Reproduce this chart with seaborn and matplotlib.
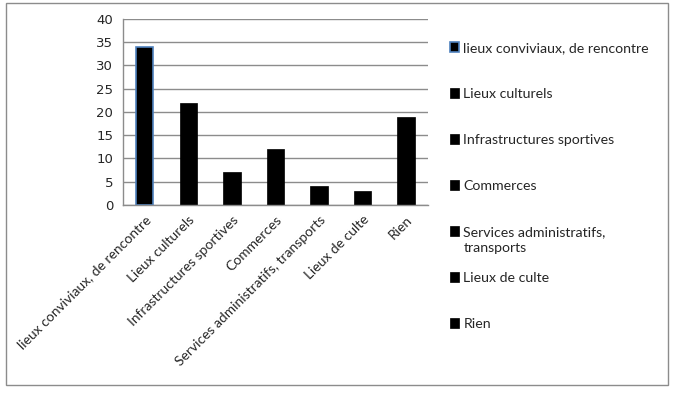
import matplotlib
matplotlib.use("Agg")
import matplotlib.pyplot as plt
import matplotlib.patches as mpatches
import numpy as np
import seaborn as sns

# Data
categories = [
    "lieux conviviaux, de rencontre",
    "Lieux culturels",
    "Infrastructures sportives",
    "Commerces",
    "Services administratifs, transports",
    "Lieux de culte",
    "Rien",
]
# legend wraps the long label onto a second line under the first one
legend_labels = [
    "lieux conviviaux, de rencontre",
    "Lieux culturels",
    "Infrastructures sportives",
    "Commerces",
    "Services administratifs,",
    "Lieux de culte",
    "Rien",
]
legend_wrap = {4: "transports"}
values = [34, 22, 7, 12, 4, 3, 19]
y_ticks = [0, 5, 10, 15, 20, 25, 30, 35, 40]

sns.set_style("white")
plt.rcParams["font.family"] = ["Lato", "DejaVu Sans"]

fig = plt.figure(figsize=(6.75, 3.94), dpi=100)
ax = fig.add_axes([123 / 675, 1 - 205 / 394, (428 - 123) / 675, (205 - 19) / 394])

sns.barplot(x=categories, y=values, hue=categories, palette=["black"] * len(categories),
            width=0.4, legend=False, ax=ax, saturation=1)

bars = ax.patches
for b in bars:
    b.set_edgecolor("black")
    b.set_linewidth(0.5)
bars[0].set_edgecolor("#4f81bd")
bars[0].set_linewidth(1.2)

ax.set_xlim(-0.5, len(categories) - 0.5)
ax.set_ylim(0, 40)
ax.set_yticks(y_ticks)
ax.yaxis.grid(True, color="#8c8c8c", linewidth=1)
ax.set_axisbelow(True)

for side in ["top", "right"]:
    ax.spines[side].set_visible(False)
for side in ["left", "bottom"]:
    ax.spines[side].set_color("#8c8c8c")
    ax.spines[side].set_linewidth(1)

ax.tick_params(axis="y", length=4, width=1, color="#8c8c8c", direction="out",
               labelsize=9.5, pad=3)
for t in ax.get_yticklabels():
    t.set_family(["DejaVu Sans"])

ax.set_xticks(np.arange(len(categories) + 1) - 0.5, minor=True)
ax.tick_params(axis="x", which="minor", length=4, width=1, color="#8c8c8c", direction="out")
ax.tick_params(axis="x", which="major", length=0, labelsize=10, pad=6)
ax.set_xticks(range(len(categories)))
ax.set_xticklabels(categories, rotation=45, ha="right", rotation_mode="anchor")
ax.set_xlabel("")
ax.set_ylabel("")

leg_fs = 10.2
leg = fig.legend(handles=bars, labels=legend_labels, loc="upper left",
                 bbox_to_anchor=(450 / 675, 1 - 42 / 394), frameon=False,
                 fontsize=leg_fs, handlelength=0.65, handleheight=0.65,
                 handletextpad=0.3, labelspacing=2.4, borderpad=0, borderaxespad=0)

# second line of the wrapped legend entry
fig.canvas.draw()
renderer = fig.canvas.get_renderer()
for i, extra in legend_wrap.items():
    bb = leg.get_texts()[i].get_window_extent(renderer).transformed(fig.transFigure.inverted())
    fig.text(bb.x0, bb.y0 - 4 / 394, extra, fontsize=leg_fs, va="top", ha="left")

# outer chart border
fig.patches.append(mpatches.Rectangle((6 / 675, 1 - 385 / 394), 662 / 675, 382 / 394,
                                      transform=fig.transFigure, fill=False,
                                      edgecolor="#8c8c8c", linewidth=1))

fig.savefig("out.png", dpi=100)
